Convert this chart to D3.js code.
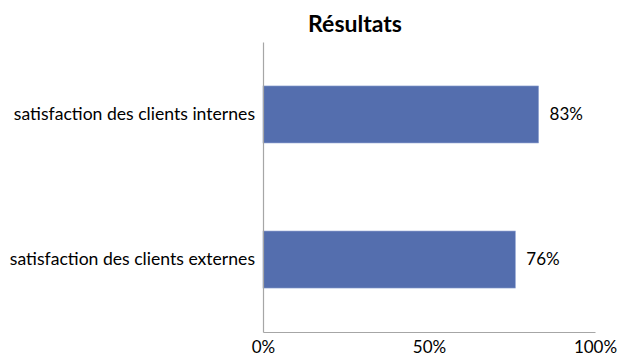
<!DOCTYPE html>
<html><head><meta charset="utf-8">
<script src="https://cdn.jsdelivr.net/npm/d3@7"></script>
<style>body{margin:0;background:#fff}svg{display:block}</style>
</head><body>
<svg id="c" width="619" height="359"></svg>
<script>
const categories = ["satisfaction des clients internes", "satisfaction des clients externes"];
const values = [0.83, 0.76];
const valueLabels = ["83%", "76%"];
const tickValues = [0, 0.5, 1];
const tickLabels = ["0%", "50%", "100%"];
const title = "Résultats";

(function () {
const svg = d3.select("#c");
const font = "Lato, 'Open Sans', sans-serif";
const mLeft = 263, mRight = 595, mTop = 42, mBottom = 332;

const x = d3.scaleLinear().domain([0, 1]).range([mLeft, mRight]);
const y = d3.scaleBand().domain(categories).range([mTop, mBottom]).paddingInner(0.607).paddingOuter(0.303);

svg.append("text").attr("x", 355).attr("y", 32).attr("text-anchor", "middle")
  .attr("font-family", font).attr("font-weight", "bold").attr("font-size", 23).attr("fill", "#000").text(title);

svg.selectAll("rect.bar").data(values).join("rect").attr("class", "bar")
  .attr("x", x(0)).attr("y", (d, i) => y(categories[i]))
  .attr("width", d => x(d) - x(0)).attr("height", y.bandwidth())
  .attr("fill", "#546eae").attr("stroke", "#8ea2d0").attr("stroke-width", 0.6);

const xAxis = d3.axisBottom(x).tickValues(tickValues).tickSize(0).tickFormat((d, i) => tickLabels[i]);
const gx = svg.append("g").attr("transform", `translate(0,${mBottom})`).call(xAxis);
gx.select(".domain").attr("stroke", "#a6a6a6").attr("stroke-width", 1.2);
gx.selectAll("text").attr("font-family", font).attr("font-size", 17).attr("fill", "#000").attr("dy", "1.05em");

const yAxis = d3.axisLeft(y).tickSize(0).tickPadding(8);
const gy = svg.append("g").attr("transform", `translate(${mLeft},0)`).call(yAxis);
gy.select(".domain").attr("stroke", "#a6a6a6").attr("stroke-width", 1.2);
gy.selectAll("text").attr("font-family", font).attr("font-size", 17.6).attr("fill", "#000");

svg.selectAll("text.val").data(values).join("text").attr("class", "val")
  .attr("x", d => x(d) + 11).attr("y", (d, i) => y(categories[i]) + y.bandwidth() / 2)
  .attr("dy", "0.35em").attr("font-family", font).attr("font-size", 17).attr("fill", "#000")
  .text((d, i) => valueLabels[i]);
})();
</script>
</body></html>
